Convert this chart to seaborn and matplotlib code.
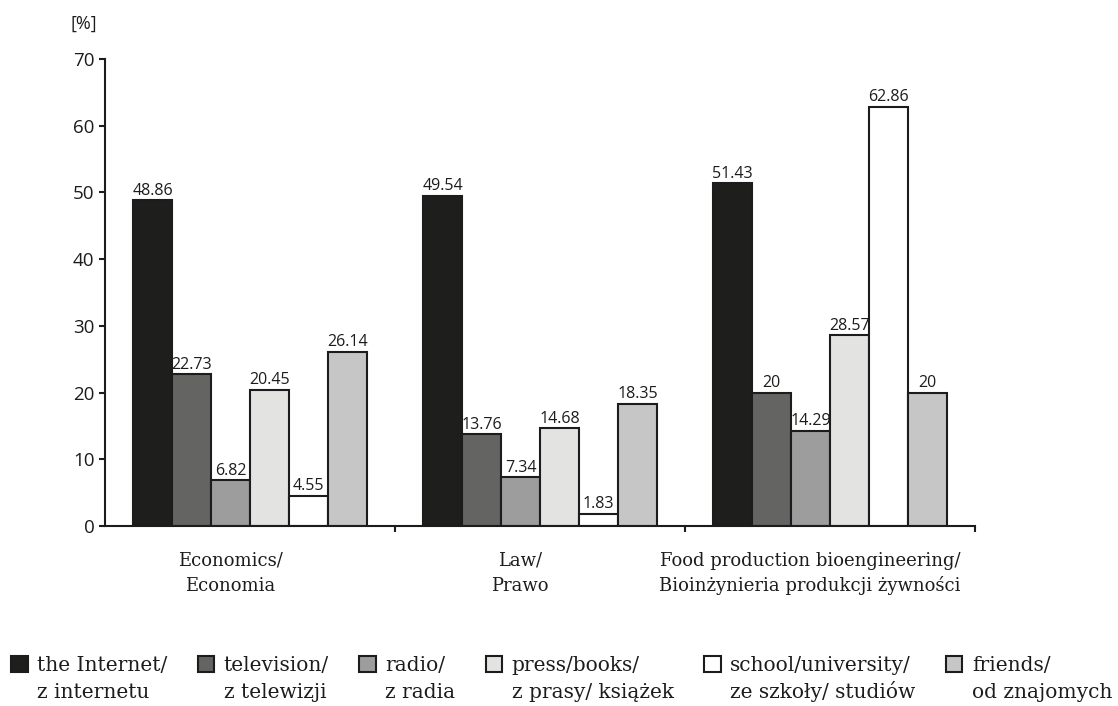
import matplotlib
matplotlib.use("Agg")
import matplotlib.pyplot as plt
import matplotlib.transforms as mtransforms
import numpy as np
import pandas as pd
import seaborn as sns

# ---- data ----
faculties = ["Economics/\nEconomia", "Law/\nPrawo",
             "Food production bioengineering/\nBioinżynieria produkcji żywności"]
sources = ["the Internet/\nz internetu", "television/\nz telewizji", "radio/\nz radia",
           "press/books/\nz prasy/ książek", "school/university/\nze szkoły/ studiów",
           "friends/\nod znajomych"]
economics = [48.86, 22.73, 6.82, 20.45, 4.55, 26.14]
law = [49.54, 13.76, 7.34, 14.68, 1.83, 18.35]
food = [51.43, 20, 14.29, 28.57, 62.86, 20]
colors = ["#1e1e1c", "#646463", "#9d9d9d", "#e3e3e2", "#ffffff", "#c6c6c6"]

rows = []
for fac, vals in zip(faculties, [economics, law, food]):
    for src, v in zip(sources, vals):
        rows.append({"faculty": fac, "source": src, "value": v})
df = pd.DataFrame(rows)

sns.set_style("ticks")
sans = ["Open Sans", "DejaVu Sans"]
serif = ["DejaVu Serif"]
ink = "#1c1c1c"

fig = plt.figure(figsize=(11.18, 7.06), dpi=100)
ax = fig.add_axes([0.0939, 0.2550, 0.7782, 0.6614])
renderer = fig.canvas.get_renderer()


def even_pitch(text, spacing):
    """Line spacing that keeps a two-line label's pitch constant even when the
    second line carries accents taller than the usual ascenders."""
    prop = text.get_fontproperties()
    lines = text.get_text().split("\n")
    w, h, d = renderer.get_text_width_height_descent("lp", prop, ismath=False)
    ref = h - d
    tallest = ref
    for line in lines[1:]:
        w, h, d = renderer.get_text_width_height_descent(line, prop, ismath=False)
        tallest = max(tallest, h - d)
    text.set_linespacing(spacing * ref / tallest)


sns.barplot(data=df, x="faculty", y="value", hue="source", order=faculties,
            hue_order=sources, palette=colors, width=0.806, gap=0,
            edgecolor=ink, linewidth=1.5, saturation=1, legend=False, ax=ax)

for cont in ax.containers:
    vals = [p.get_height() for p in cont.patches]
    ax.bar_label(cont, labels=[f"{v:g}" for v in vals], padding=1.0,
                 fontsize=11.5, family=sans, color=ink)

ax.set_xlim(-0.5, 2.5)
ax.set_ylim(0, 70)
ax.set_yticks(np.arange(0, 71, 10))
ax.set_xlabel("")
ax.set_ylabel("")
sns.despine(ax=ax)
for s in ("left", "bottom"):
    ax.spines[s].set_linewidth(1.5)
    ax.spines[s].set_color(ink)

ax.tick_params(axis="y", direction="out", length=4, width=1.5, color=ink,
               labelsize=13.5, pad=3.5, labelcolor=ink)
for lab in ax.get_yticklabels():
    lab.set_family(sans)
ax.tick_params(axis="x", which="major", length=0, pad=18.5, labelsize=13,
               labelcolor=ink)
# faculty names sit a little left of their bar groups
shift = mtransforms.ScaledTranslation(-0.2, 0, fig.dpi_scale_trans)
for lab in ax.get_xticklabels():
    lab.set_family(serif)
    even_pitch(lab, 1.55)
    lab.set_transform(lab.get_transform() + shift)
ax.set_xticks([0.5, 1.5, 2.5], minor=True)
ax.tick_params(axis="x", which="minor", direction="out", length=4.5, width=1.5,
               color=ink)

fig.text(84 / 1118, 1 - 24 / 706, "[%]", fontsize=13, family=sans, ha="center",
         va="center", color=ink)

leg = fig.legend(ax.containers, sources, loc="upper left",
                 bbox_to_anchor=(11 / 1118, 1 - 656 / 706),
                 ncol=6, frameon=False, prop={"family": "DejaVu Serif", "size": 14.5},
                 handlelength=0.82, handleheight=0.82, handletextpad=0.48,
                 columnspacing=1.5, borderpad=0, borderaxespad=0)
for t in leg.get_texts():
    t.set_color(ink)
    even_pitch(t, 1.55)
# keep each swatch level with the first line of its label
leg._legend_handle_box.align = "top"
for col in leg._legend_handle_box.get_children():
    for item in col.get_children():
        item.align = "top"

fig.savefig("out.png", dpi=100)
